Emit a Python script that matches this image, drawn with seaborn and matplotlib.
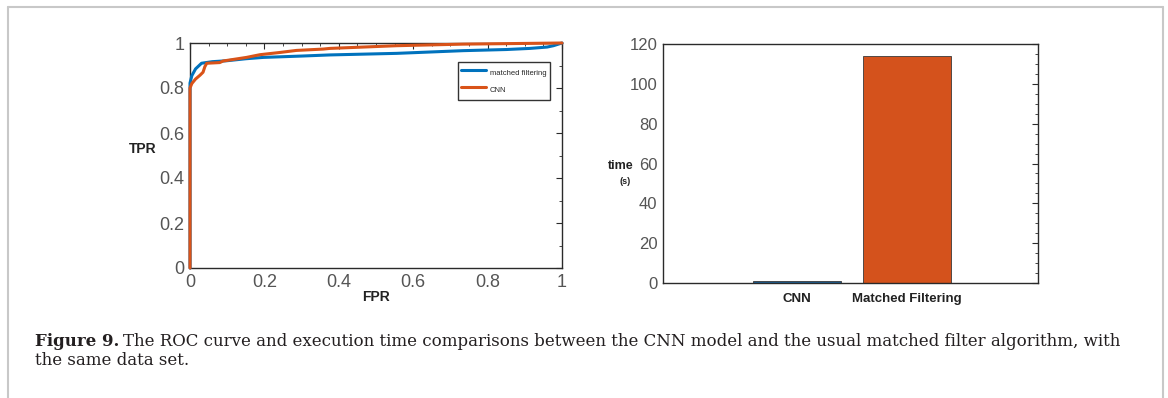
import numpy as np
import pandas as pd
import matplotlib
matplotlib.use("Agg")
import matplotlib.pyplot as plt
from matplotlib.lines import Line2D
from matplotlib.ticker import MultipleLocator
import seaborn as sns

# ROC curve points (FPR, TPR)
mf_fpr = [0.0, 0.0, 0.005, 0.015, 0.031, 0.06, 0.098, 0.15, 0.197, 0.30, 0.376, 0.556, 0.735, 0.85, 0.914, 0.96, 0.977, 1.0]
mf_tpr = [0.0, 0.822, 0.855, 0.885, 0.91, 0.917, 0.921, 0.93, 0.936, 0.942, 0.947, 0.954, 0.966, 0.971, 0.976, 0.982, 0.988, 1.0]
cnn_fpr = [0.0, 0.0, 0.005, 0.015, 0.027, 0.035, 0.040, 0.045, 0.08, 0.089, 0.152, 0.188, 0.242, 0.286, 0.358, 0.376, 0.556, 0.735, 1.0]
cnn_tpr = [0.0, 0.80, 0.82, 0.84, 0.857, 0.87, 0.895, 0.91, 0.913, 0.92, 0.936, 0.948, 0.958, 0.967, 0.973, 0.976, 0.988, 0.995, 1.0]

# Execution time
methods = ["CNN", "Matched Filtering"]
times = [1.2, 114.0]

BLUE = "#0072BD"
ORANGE = "#D95319"
BAR_BLUE = "#1c5f94"
BAR_ORANGE = "#D4521C"

sns.set_theme(style="white")
plt.rcParams["font.family"] = ["Liberation Sans", "DejaVu Sans"]

fig = plt.figure(figsize=(11.68, 3.98), dpi=100)
W, H = 1168, 398

def px_axes(x0, y_top, x1, y_bot):
    return fig.add_axes([x0 / W, 1 - y_bot / H, (x1 - x0) / W, (y_bot - y_top) / H])

roc = pd.concat([
    pd.DataFrame({"FPR": mf_fpr, "TPR": mf_tpr, "method": "matched filtering"}),
    pd.DataFrame({"FPR": cnn_fpr, "TPR": cnn_tpr, "method": "CNN"}),
], ignore_index=True)

ax1 = px_axes(190, 43, 562, 268)
sns.lineplot(data=roc, x="FPR", y="TPR", hue="method", palette=[BLUE, ORANGE],
             sort=False, estimator=None, linewidth=2.2, ax=ax1, legend=False)
for ln in ax1.get_lines():
    ln.set_clip_on(False)
    ln.set_zorder(3)
ax1.set_xlim(0, 1)
ax1.set_ylim(0, 1)
ax1.set_xticks([0, 0.2, 0.4, 0.6, 0.8, 1])
ax1.set_xticklabels(["0", "0.2", "0.4", "0.6", "0.8", "1"])
ax1.set_yticks([0, 0.2, 0.4, 0.6, 0.8, 1])
ax1.set_yticklabels(["0", "0.2", "0.4", "0.6", "0.8", "1"])
ax1.xaxis.set_minor_locator(MultipleLocator(0.05))
ax1.yaxis.set_minor_locator(MultipleLocator(0.1))
ax1.set_xlabel("")
ax1.set_ylabel("")
ax1.text(-0.09, 0.53, "TPR", transform=ax1.transAxes, ha="right", va="center",
         fontsize=10, fontweight="bold", color="#222222")
ax1.text(0.5, -0.128, "FPR", transform=ax1.transAxes, ha="center", va="center",
         fontsize=10, fontweight="bold", color="#222222")
handles = [Line2D([0], [0], color=BLUE, lw=2.2), Line2D([0], [0], color=ORANGE, lw=2.2)]
leg = ax1.legend(handles, ["matched filtering", "CNN"], loc="upper left",
                 bbox_to_anchor=(0.72, 0.916), borderaxespad=0, fontsize=5.5,
                 frameon=True, fancybox=False, edgecolor="#333333", framealpha=1,
                 handlelength=3.3, handleheight=2.6, labelspacing=0.25,
                 borderpad=0.45, handletextpad=0.4)
leg.get_frame().set_linewidth(1.0)

ax2 = px_axes(663, 44, 1038, 283)
bars = pd.DataFrame({"method": methods, "time": times})
sns.barplot(data=bars, x="method", y="time", hue="method", palette=[BAR_BLUE, BAR_ORANGE],
            width=0.8, edgecolor="#3a3a3a", linewidth=0.6, legend=False, ax=ax2,
            saturation=1)
ax2.set_xlim(-1.218, 2.19)
ax2.set_ylim(0, 120)
ax2.set_yticks(range(0, 121, 20))
ax2.yaxis.set_minor_locator(MultipleLocator(5))
ax2.set_xlabel("")
ax2.set_ylabel("")
# axis-label texts placed in pixel positions measured from the top-left
fig.text(621 / W, 1 - 166 / H, "time", ha="center", va="center",
         fontsize=9, fontweight="bold", color="#222222")
fig.text(625 / W, 1 - 181 / H, "(s)", ha="center", va="center",
         fontsize=6.5, fontweight="bold", color="#222222")

for ax, fs in ((ax1, 13), (ax2, 12)):
    for s in ax.spines.values():
        s.set_visible(True)
        s.set_color("#2a2a2a")
        s.set_linewidth(1.0)
    ax.tick_params(axis="both", which="both", direction="in", top=True, right=True,
                   color="#2a2a2a")
    ax.tick_params(which="major", length=4, width=0.8)
    ax.tick_params(which="minor", length=2, width=0.6)
    ax.tick_params(axis="y", labelsize=fs, labelcolor="#555555", pad=4)
    ax.set_facecolor("white")
ax1.tick_params(axis="x", labelsize=13, labelcolor="#555555", pad=4)
ax2.tick_params(axis="x", which="major", labelsize=9.5, labelcolor="#222222", pad=7, length=0)
for lbl in ax2.get_xticklabels():
    lbl.set_fontweight("bold")

# Figure frame
frame_kw = dict(color="#c8c8c8", lw=1.5, transform=fig.transFigure, clip_on=False)
fig.add_artist(Line2D([8 / W, 8 / W], [0, 1 - 6.5 / H], **frame_kw))
fig.add_artist(Line2D([8 / W, 1163 / W], [1 - 6.5 / H, 1 - 6.5 / H], **frame_kw))
fig.add_artist(Line2D([1163 / W, 1163 / W], [0, 1 - 6.5 / H], **frame_kw))

# Caption
cap_kw = dict(fontsize=12.0, color="#231f20", family=["DejaVu Serif"],
              va="baseline", ha="left")
t1 = fig.text(35 / W, 1 - 346 / H, "Figure 9.", fontweight="bold", **cap_kw)
fig.canvas.draw()
bb = t1.get_window_extent(renderer=fig.canvas.get_renderer())
fig.text(bb.x1 / W + 4 / W, 1 - 346 / H,
         "The ROC curve and execution time comparisons between the CNN model and the usual "
         "matched filter algorithm, with", **cap_kw)
fig.text(35 / W, 1 - 365 / H, "the same data set.", **cap_kw)

fig.savefig("out.png", dpi=100, facecolor="white")
